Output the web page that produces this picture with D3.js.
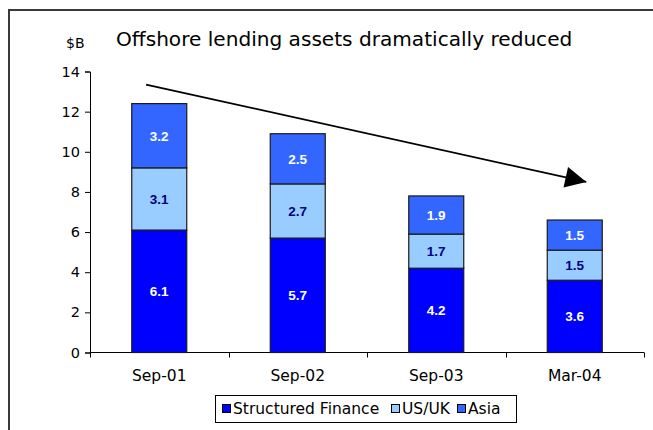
<!DOCTYPE html>
<html>
<head>
<meta charset="utf-8">
<script src="https://cdn.jsdelivr.net/npm/d3@7"></script>
<style>
  html, body { margin: 0; padding: 0; background: #fff; }
  svg { display: block; }
</style>
</head>
<body>
<div id="chart"></div>
<script>
// Offshore lending assets by region, $B
const categories = ["Sep-01", "Sep-02", "Sep-03", "Mar-04"];
const structuredFinance = [6.1, 5.7, 4.2, 3.6];
const usUk = [3.1, 2.7, 1.7, 1.5];
const asia = [3.2, 2.5, 1.9, 1.5];
const seriesNames = ["Structured Finance", "US/UK", "Asia"];
const yTicks = [0, 2, 4, 6, 8, 10, 12, 14];

// Trend arrow endpoints: category, fraction across the bar, value
const trendFrom = { cat: "Sep-01", frac: 0.26, value: 13.35 };
const trendTo = { cat: "Mar-04", frac: 0.71, value: 8.5 };

const W = 653, H = 430;
const colors = ["#0000ff", "#99ccff", "#3366ff"];
const labelColors = ["#ffffff", "#000080", "#ffffff"];
const FONT = "'DejaVu Sans', Verdana, sans-serif";

const svg = d3.select("#chart").append("svg")
  .attr("width", W).attr("height", H);

// outer frame (open on the right and bottom)
svg.append("path")
  .attr("d", `M9,${H + 5} V10 H${W + 5}`)
  .attr("fill", "none").attr("stroke", "#3a3a3a").attr("stroke-width", 2);

const plot = { left: 90, right: 644, top: 71.5, bottom: 352.5 };

const x = d3.scaleBand()
  .domain(categories)
  .range([plot.left, plot.right])
  .paddingInner(0.603)
  .paddingOuter(0.3015);

const y = d3.scaleLinear()
  .domain([0, 14])
  .range([plot.bottom, plot.top]);

// stacked data
const table = categories.map((c, i) => ({
  cat: c,
  "Structured Finance": structuredFinance[i],
  "US/UK": usUk[i],
  "Asia": asia[i]
}));
const stacked = d3.stack().keys(seriesNames)(table);

// Y axis
const yAxis = d3.axisLeft(y).tickValues(yTicks).tickSize(5).tickPadding(5);
const gy = svg.append("g").attr("transform", `translate(${plot.left},0)`).call(yAxis);
gy.select(".domain").attr("stroke", "#000");
gy.selectAll(".tick line").attr("stroke", "#000");
gy.selectAll(".tick text")
  .attr("font-family", FONT).attr("font-size", 14.5).attr("fill", "#000");

// X axis: ticks at band boundaries
svg.append("line")
  .attr("x1", plot.left).attr("x2", plot.right)
  .attr("y1", y(0)).attr("y2", y(0))
  .attr("stroke", "#000");
const boundaries = categories.map(c => x(c) - x.step() * x.paddingOuter());
boundaries.push(plot.right);
svg.selectAll(".xtick").data(boundaries).join("line")
  .attr("class", "xtick")
  .attr("x1", d => Math.round(d) + 0.5).attr("x2", d => Math.round(d) + 0.5)
  .attr("y1", y(0)).attr("y2", y(0) + 5)
  .attr("stroke", "#000");
svg.selectAll(".xlabel").data(categories).join("text")
  .attr("class", "xlabel")
  .attr("x", d => x(d) + x.bandwidth() / 2)
  .attr("y", 380.5)
  .attr("text-anchor", "middle")
  .attr("font-family", FONT).attr("font-size", 15.5).attr("fill", "#000")
  .text(d => d);

// bars
const layers = svg.selectAll(".layer").data(stacked).join("g")
  .attr("class", "layer")
  .attr("fill", (d, i) => colors[i]);
layers.selectAll("rect").data(d => d).join("rect")
  .attr("x", d => x(d.data.cat))
  .attr("y", d => y(d[1]))
  .attr("width", x.bandwidth())
  .attr("height", d => y(d[0]) - y(d[1]))
  .attr("stroke", "#1a1a1a").attr("stroke-width", 1.2);

// value labels
stacked.forEach((layer, li) => {
  svg.selectAll(".lbl" + li).data(layer).join("text")
    .attr("class", "lbl" + li)
    .attr("x", d => x(d.data.cat) + x.bandwidth() / 2)
    .attr("y", d => (y(d[0]) + y(d[1])) / 2)
    .attr("dy", "0.36em")
    .attr("text-anchor", "middle")
    .attr("font-family", "'Liberation Sans', Arial, sans-serif")
    .attr("font-weight", "bold").attr("font-size", 13.5)
    .attr("fill", labelColors[li])
    .text(d => (d[1] - d[0]).toFixed(1));
});

// trend arrow
const defs = svg.append("defs");
defs.append("marker")
  .attr("id", "arrowhead")
  .attr("viewBox", "0 0 10 10")
  .attr("refX", 10).attr("refY", 5)
  .attr("markerWidth", 24).attr("markerHeight", 21)
  .attr("markerUnits", "userSpaceOnUse")
  .attr("orient", "auto")
  .append("path").attr("d", "M0,0 L10,5 L0,10 Z").attr("fill", "#000");

const ax1 = x(trendFrom.cat) + x.bandwidth() * trendFrom.frac;
const ay1 = y(trendFrom.value);
const ax2 = x(trendTo.cat) + x.bandwidth() * trendTo.frac;
const ay2 = y(trendTo.value);
svg.append("line")
  .attr("x1", ax1).attr("y1", ay1).attr("x2", ax2).attr("y2", ay2)
  .attr("stroke", "#000").attr("stroke-width", 1.7)
  .attr("marker-end", "url(#arrowhead)");

// titles
svg.append("text")
  .attr("x", 116).attr("y", 46)
  .attr("font-family", FONT).attr("font-size", 20.1).attr("fill", "#000")
  .text("Offshore lending assets dramatically reduced");
svg.append("text")
  .attr("x", 66).attr("y", 48)
  .attr("font-family", FONT).attr("font-size", 14).attr("fill", "#000")
  .text("$B");

// legend: a framed row of swatch + name entries
const legendLeft = 215.5, legendRight = 516.5;
const legendSlots = [222, 391, 457];
const legend = svg.append("g");
legend.append("rect")
  .attr("x", legendLeft).attr("y", 395.5)
  .attr("width", legendRight - legendLeft).attr("height", 27)
  .attr("fill", "#fff").attr("stroke", "#000");
seriesNames.forEach((name, i) => {
  const lx = legendSlots[i];
  legend.append("rect")
    .attr("x", lx + 0.5).attr("y", 404.5).attr("width", 8).attr("height", 8)
    .attr("fill", colors[i]).attr("stroke", "#000");
  legend.append("text")
    .attr("x", lx + 11).attr("y", 414)
    .attr("font-family", FONT).attr("font-size", 15.5).attr("fill", "#000")
    .text(name);
});
</script>
</body>
</html>
